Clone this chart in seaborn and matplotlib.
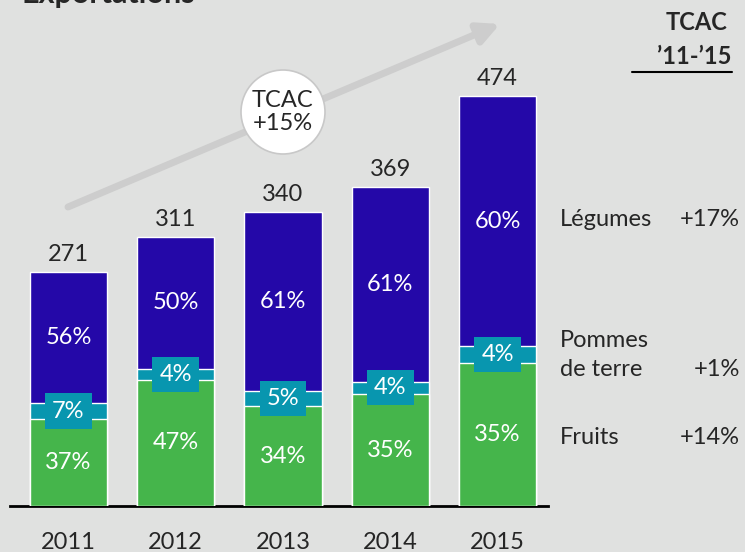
#importing the necessary libraries
import numpy as np
import pandas as pd
import matplotlib.pyplot as plt
import seaborn as sns
from matplotlib.patches import Circle

#data
years = ['2011', '2012', '2013', '2014', '2015']
totals = [271, 311, 340, 369, 474]
pct_fruits = [37, 47, 34, 35, 35]
pct_pommes = [7, 4, 5, 4, 4]
pct_legumes = [56, 50, 61, 61, 60]
categories = ['Légumes', 'Pommes\nde terre', 'Fruits']
tcac_cat = ['+17%', '+1%', '+14%']
tcac_total = '+15%'

sns.set_style('white')
plt.rcParams['font.family'] = ['Lato', 'DejaVu Sans']

bg = '#E0E1E0'
blue = '#2408A8'
teal = '#0896AF'
green = '#45B54B'
W, H = 745, 552

def px(x, y):
    #pixel position -> figure fraction
    return x / W, 1 - y / H

df = pd.DataFrame({'year': years, 'total': totals,
                   'fruits': pct_fruits, 'pommes': pct_pommes, 'legumes': pct_legumes})
df['fruits_top'] = df['total'] * df['fruits'] / 100
df['pommes_top'] = df['total'] * (df['fruits'] + df['pommes']) / 100

fig = plt.figure(figsize=(W / 100, H / 100), dpi=100, facecolor=bg)
ax = fig.add_axes([10 / W, 46 / H, 538 / W, 506 / H])
ax.set_facecolor(bg)

#stacked bars drawn as overlapping cumulative bars
for col, c in [('total', blue), ('pommes_top', teal), ('fruits_top', green)]:
    sns.barplot(data=df, x='year', y=col, color=c, saturation=1, width=0.72,
                edgecolor='white', linewidth=1, ax=ax, zorder=3)

ax.set_xlim(-0.545, 4.47)
ax.set_ylim(0, 585)
for s in ['left', 'top', 'right']:
    ax.spines[s].set_visible(False)
ax.spines['bottom'].set_color('black')
ax.spines['bottom'].set_linewidth(2)
ax.set_yticks([])
ax.set_xlabel('')
ax.set_ylabel('')
ax.tick_params(axis='x', length=0, pad=19, labelsize=17)

fs = 17
for i, row in df.iterrows():
    ax.text(i, row['total'] + 20, str(row['total']), ha='center', va='center', fontsize=fs)
    ax.text(i, (row['pommes_top'] + row['total']) / 2, f"{row['legumes']}%",
            ha='center', va='center', fontsize=fs, color='white', zorder=5)
    ax.text(i, row['fruits_top'] / 2, f"{row['fruits']}%",
            ha='center', va='center', fontsize=fs, color='white', zorder=5)
    ax.text(i, (row['fruits_top'] + row['pommes_top']) / 2, f"{row['pommes']}%",
            ha='center', va='center', fontsize=fs, color='white', zorder=5,
            bbox=dict(boxstyle='square,pad=0.3', fc=teal, ec='none'))

#growth arrow and circle
ax.annotate('', xy=px(500, 24), xytext=px(68, 207),
            xycoords='figure fraction', textcoords='figure fraction',
            arrowprops=dict(arrowstyle='-|>,head_length=0.8,head_width=0.4', lw=5,
                            color='#CDCDCD', mutation_scale=16, shrinkA=0, shrinkB=0))
fig.add_artist(Circle((2.83, (H - 112) / 100), 0.42, transform=fig.dpi_scale_trans,
                      fc='white', ec='#C8C8C8', lw=1.2, zorder=10))
fig.text(*px(283, 112), 'TCAC\n' + tcac_total, ha='center', va='center',
         fontsize=fs, linespacing=1.1, zorder=11)

#title, cut at the top
fig.text(*px(22, 3), 'Exportations', fontsize=22, fontweight='bold', va='baseline')

#right-hand legend
fig.text(*px(727, 22), 'TCAC', ha='right', va='center', fontsize=fs, fontweight='bold')
fig.text(*px(732, 57), '\u201911-\u201915', ha='right', va='center', fontsize=fs, fontweight='bold')
fig.add_artist(plt.Line2D([632 / W, 732 / W], [1 - 72 / H, 1 - 72 / H], color='black', lw=1.5))

label_y = [220, 355, 437]
for name, g, y in zip(categories, tcac_cat, label_y):
    fig.text(*px(560, y), name, ha='left', va='center', fontsize=fs, linespacing=1.45)
    gy = y + 15 if '\n' in name else y
    fig.text(*px(740, gy), g, ha='right', va='center', fontsize=fs)

plt.savefig('out.png', dpi=100, facecolor=bg)
